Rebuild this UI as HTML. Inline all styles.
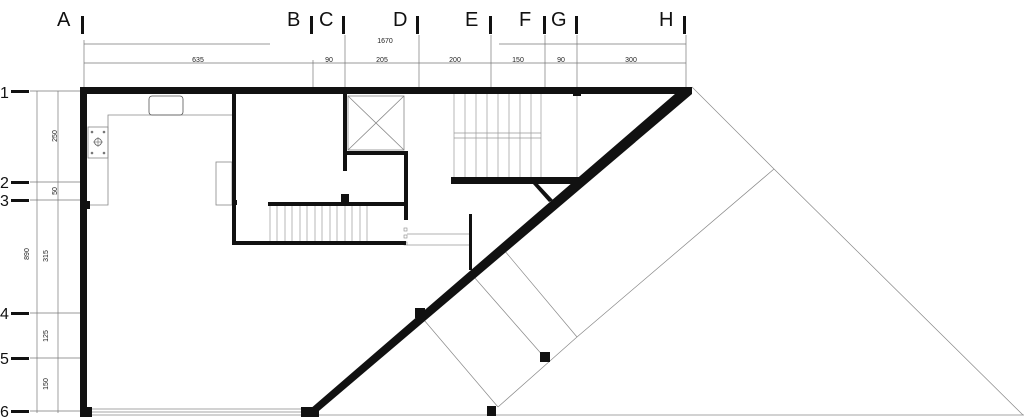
<!DOCTYPE html>
<html><head><meta charset="utf-8"><style>html,body{margin:0;padding:0;background:#fff;}svg{display:block}</style></head>
<body>
<svg width="1024" height="417" viewBox="0 0 1024 417" xmlns="http://www.w3.org/2000/svg" font-family="Liberation Sans, sans-serif">
<rect width="1024" height="417" fill="#fff"/>
<!-- column labels -->
<g font-size="20" fill="#111">
<text x="57" y="26">A</text><text x="287" y="26">B</text><text x="319" y="26">C</text><text x="393" y="26">D</text><text x="465" y="26">E</text><text x="519" y="26">F</text><text x="551" y="26">G</text><text x="659" y="26">H</text>
</g>
<g fill="#111">
<rect x="81" y="16" width="3" height="18"/><rect x="310" y="16" width="3" height="18"/><rect x="342" y="16" width="3" height="18"/><rect x="416" y="16" width="3" height="18"/><rect x="489" y="16" width="3" height="18"/><rect x="543" y="16" width="3" height="18"/><rect x="575" y="16" width="3" height="18"/><rect x="683" y="16" width="3" height="18"/>
</g>
<g stroke="#777" stroke-width="0.7" fill="none">
<line x1="84" y1="44" x2="270" y2="44"/><line x1="499" y1="44" x2="686" y2="44"/>
<line x1="84" y1="63" x2="686" y2="63"/>
<line x1="84" y1="40" x2="84" y2="88"/><line x1="313" y1="60" x2="313" y2="88"/><line x1="345" y1="35" x2="345" y2="88"/><line x1="419" y1="35" x2="419" y2="88"/><line x1="491" y1="35" x2="491" y2="88"/><line x1="545" y1="35" x2="545" y2="88"/><line x1="577" y1="35" x2="577" y2="88"/><line x1="686" y1="35" x2="686" y2="88"/>
</g>
<g font-size="7" fill="#222" text-anchor="middle">
<text x="385" y="43">1670</text>
<text x="198" y="62">635</text><text x="329" y="62">90</text><text x="382" y="62">205</text><text x="455" y="62">200</text><text x="518" y="62">150</text><text x="561" y="62">90</text><text x="631" y="62">300</text>
</g>
<!-- row labels -->
<g font-size="16" fill="#111">
<text x="0" y="98">1</text><text x="0" y="188">2</text><text x="0" y="206">3</text><text x="0" y="319">4</text><text x="0" y="364">5</text><text x="0" y="417">6</text>
</g>
<g fill="#111">
<rect x="11" y="90" width="18" height="3"/><rect x="11" y="181" width="18" height="3"/><rect x="11" y="199" width="18" height="3"/><rect x="11" y="312" width="18" height="3"/><rect x="11" y="357" width="18" height="3"/><rect x="11" y="410" width="18" height="3"/>
</g>
<g stroke="#777" stroke-width="0.7" fill="none">
<line x1="37" y1="91" x2="37" y2="413"/><line x1="58" y1="91" x2="58" y2="413"/>
<line x1="30" y1="91" x2="80" y2="91"/><line x1="30" y1="182" x2="80" y2="182"/><line x1="30" y1="200" x2="80" y2="200"/><line x1="30" y1="313" x2="80" y2="313"/><line x1="30" y1="358" x2="80" y2="358"/><line x1="30" y1="411" x2="80" y2="411"/>
</g>
<g font-size="7" fill="#222" text-anchor="middle">
<text transform="translate(57,136) rotate(-90)">250</text>
<text transform="translate(57,191) rotate(-90)">50</text>
<text transform="translate(48,256) rotate(-90)">315</text>
<text transform="translate(29,254) rotate(-90)">890</text>
<text transform="translate(48,336) rotate(-90)">125</text>
<text transform="translate(48,384) rotate(-90)">150</text>
</g>
<!-- thin site lines -->
<g stroke="#888" stroke-width="0.7" fill="none">
<polyline points="692,87 774,169 1023,415"/>
<line x1="87" y1="415" x2="1024" y2="415"/>
<polyline points="774,169 577,337 498,407"/>
<line x1="504" y1="250" x2="577" y2="337"/>
<line x1="474" y1="277" x2="545" y2="358"/>
<line x1="424" y1="320" x2="498" y2="407"/>
<line x1="87" y1="409" x2="305" y2="409"/><line x1="87" y1="412" x2="305" y2="412"/>
</g>
<!-- kitchen -->
<g stroke="#888" stroke-width="0.8" fill="none">
<polyline points="232,115 108,115 108,205 87,205"/>
<rect x="88" y="127" width="20" height="31"/>
<rect x="216" y="162" width="16" height="43"/>
<rect x="149" y="96" width="34" height="19" rx="3" stroke="#555"/>
<circle cx="98" cy="142" r="3.5" stroke="#555"/>
<line x1="93" y1="142" x2="103" y2="142"/><line x1="98" y1="137" x2="98" y2="147"/>
</g>
<g fill="#777"><circle cx="92" cy="132" r="1.3"/><circle cx="104" cy="132" r="1.3"/><circle cx="92" cy="153" r="1.3"/><circle cx="104" cy="153" r="1.3"/></g>
<!-- elevator -->
<g stroke="#888" stroke-width="0.8" fill="none">
<rect x="348" y="96" width="56" height="54"/><line x1="348" y1="96" x2="404" y2="150"/><line x1="404" y1="96" x2="348" y2="150"/>
</g>
<!-- stairs lower -->
<g stroke="#999" stroke-width="0.7">
<line x1="270" y1="206" x2="270" y2="241"/><line x1="277" y1="206" x2="277" y2="241"/><line x1="285" y1="206" x2="285" y2="241"/><line x1="292" y1="206" x2="292" y2="241"/><line x1="300" y1="206" x2="300" y2="241"/><line x1="307" y1="206" x2="307" y2="241"/><line x1="315" y1="206" x2="315" y2="241"/><line x1="322" y1="206" x2="322" y2="241"/><line x1="330" y1="206" x2="330" y2="241"/><line x1="337" y1="206" x2="337" y2="241"/><line x1="345" y1="206" x2="345" y2="241"/><line x1="352" y1="206" x2="352" y2="241"/><line x1="360" y1="206" x2="360" y2="241"/><line x1="367" y1="206" x2="367" y2="241"/>
<line x1="407" y1="234" x2="470" y2="234"/><line x1="407" y1="245" x2="470" y2="245"/>
</g>
<g stroke="#888" stroke-width="0.6" fill="#fff"><rect x="404" y="228" width="3" height="3"/><rect x="404" y="235" width="3" height="3"/><rect x="404" y="242" width="3" height="3"/></g>
<!-- stairs upper -->
<g stroke="#999" stroke-width="0.7">
<line x1="454" y1="94" x2="454" y2="177"/><line x1="465" y1="94" x2="465" y2="177"/><line x1="476" y1="94" x2="476" y2="177"/><line x1="487" y1="94" x2="487" y2="177"/><line x1="498" y1="94" x2="498" y2="177"/><line x1="509" y1="94" x2="509" y2="177"/><line x1="520" y1="94" x2="520" y2="177"/><line x1="531" y1="94" x2="531" y2="177"/><line x1="541" y1="94" x2="541" y2="177"/>
<line x1="454" y1="133" x2="541" y2="133"/><line x1="454" y1="138" x2="541" y2="138"/>
<line x1="577" y1="94" x2="577" y2="177"/>
</g>
<!-- walls -->
<g fill="#111">
<rect x="80" y="87" width="612" height="7"/>
<rect x="80" y="87" width="7" height="330"/>
<polygon points="683,87 692,87 692,94 313,416 302,416"/>
<rect x="232" y="94" width="4" height="151"/>
<rect x="232" y="241" width="174" height="4"/>
<rect x="268" y="202" width="138" height="4"/>
<rect x="341" y="194" width="8" height="9"/>
<rect x="343" y="94" width="4" height="77"/>
<rect x="344" y="151" width="64" height="4"/>
<rect x="404" y="151" width="4" height="69"/>
<rect x="469" y="214" width="3" height="56"/>
<rect x="451" y="177" width="131" height="7"/>
<polygon points="533,184 538,184 553,200 549,202"/>
<rect x="573" y="92" width="8" height="4"/>
<rect x="80" y="201" width="10" height="8"/>
<rect x="234" y="200" width="3" height="5"/>
<rect x="80" y="407" width="12" height="10"/>
<rect x="301" y="407" width="18" height="10"/>
<rect x="415" y="308" width="10" height="10"/>
<rect x="540" y="352" width="10" height="10"/>
<rect x="487" y="406" width="9" height="10"/>
</g>
</svg>
</body></html>
